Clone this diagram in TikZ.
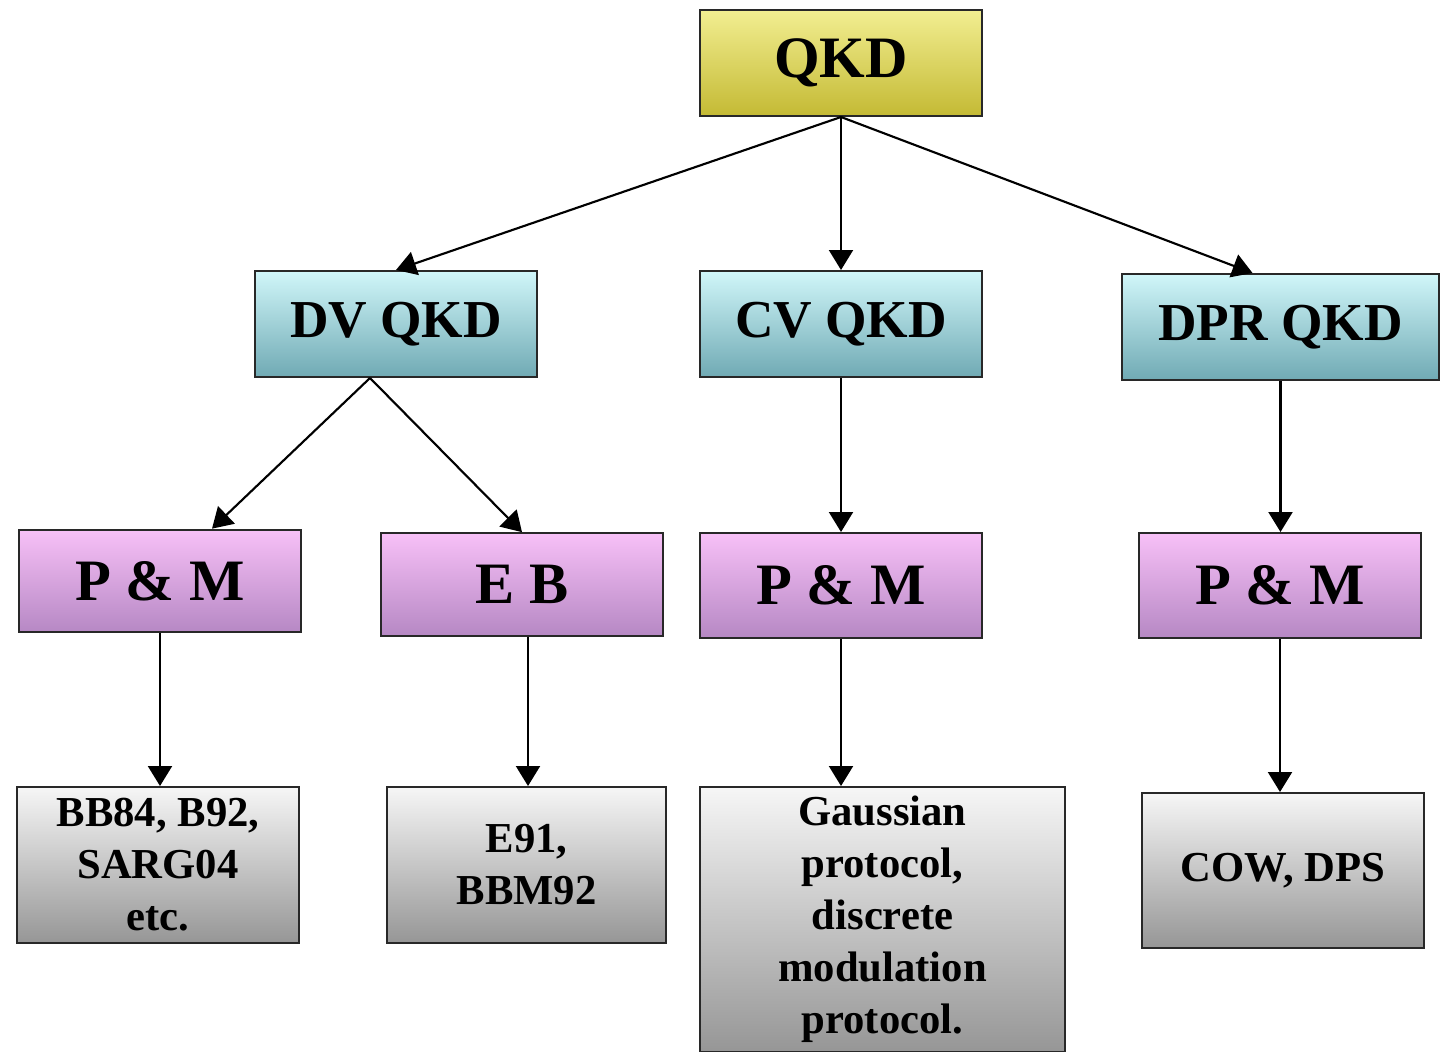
\documentclass[tikz,border=0pt]{standalone}
\usepackage{fontspec}
\setmainfont{Liberation Serif}
\usepackage{tikz}
\usetikzlibrary{arrows.meta}

\definecolor{qkdtop}{RGB}{242,238,145}
\definecolor{qkdbot}{RGB}{196,186,52}
\definecolor{cyantop}{RGB}{208,246,249}
\definecolor{cyanbot}{RGB}{112,170,180}
\definecolor{pinktop}{RGB}{247,192,247}
\definecolor{pinkbot}{RGB}{182,136,196}
\definecolor{greytop}{RGB}{246,246,246}
\definecolor{greybot}{RGB}{150,150,150}

\tikzset{
  box/.style={draw={rgb,255:red,40;green,40;blue,40}, line width=1.5pt, inner sep=2pt,
    minimum width=211.5pt, align=center},
  bigbox/.style={box, minimum height=79.5pt, font=\fontsize{40}{44}\selectfont\bfseries},
  rootbox/.style={bigbox, top color=qkdtop, bottom color=qkdbot, font=\fontsize{44}{48}\selectfont\bfseries},
  kindbox/.style={bigbox, top color=cyantop, bottom color=cyanbot},
  schemebox/.style={bigbox, minimum height=77pt, top color=pinktop, bottom color=pinkbot,
    font=\fontsize{44}{48}\selectfont\bfseries},
  protobox/.style={box, minimum height=117pt, top color=greytop, bottom color=greybot,
    font=\fontsize{32}{39}\selectfont\bfseries},
  link/.style={line width=1.6pt, -{Triangle[length=15pt,width=18pt]}}
}

\begin{document}
\begin{tikzpicture}[x=0.75pt,y=0.75pt,yscale=-1,xscale=1]
  \useasboundingbox (0,0) rectangle (1445,1052); %same size as the reference

  % Root
  \draw (841,63) node [rootbox] (qkd) {QKD};

  % Families
  \draw (396,324) node [kindbox] (dv) {DV QKD};
  \draw (841,324) node [kindbox] (cv) {CV QKD};
  \draw (1280.5,327) node [kindbox, minimum width=237.75pt] (dpr) {DPR QKD};

  % Schemes
  \draw (160,581) node [schemebox] (pmdv) {P \& M};
  \draw (522,584.5) node [schemebox] (eb) {E B};
  \draw (841,585.5) node [schemebox, minimum height=78.75pt] (pmcv) {P \& M};
  \draw (1280,585.5) node [schemebox, minimum height=78.75pt] (pmdpr) {P \& M};

  % Protocols
  \draw (158,865) node [protobox] (bb) {BB84, B92,\\SARG04\\etc.};
  \draw (526.5,865) node [protobox, minimum width=209.25pt] (e91) {E91,\\BBM92};
  \draw (882.5,919.5) node [protobox, minimum width=273.75pt, minimum height=198.75pt] (gau)
    {Gaussian\\protocol,\\discrete\\modulation\\protocol.};
  \draw (1283,870.5) node [protobox, minimum height=116.25pt] (cow) {COW, DPS};

  % Arrows
  \draw [link] (qkd.south) -- (dv.north);
  \draw [link] (qkd.south) -- (cv.north);
  \draw [link] (qkd.south) -- ([xshift=-21pt]dpr.north);

  \draw [link] ([xshift=-19.5pt]dv.south) -- ([xshift=39pt]pmdv.north);
  \draw [link] ([xshift=-19.5pt]dv.south) -- (eb.north);
  \draw [link] (cv.south) -- (pmcv.north);
  \draw [link] (dpr.south) -- (dpr.south |- pmdpr.north);

  \draw [link] (pmdv.south) -- (pmdv.south |- bb.north);
  \draw [link] ([xshift=4.5pt]eb.south) -- ([xshift=4.5pt]eb.south |- e91.north);
  \draw [link] (pmcv.south) -- (pmcv.south |- gau.north);
  \draw [link] (pmdpr.south) -- (pmdpr.south |- cow.north);

\end{tikzpicture}
\end{document}
